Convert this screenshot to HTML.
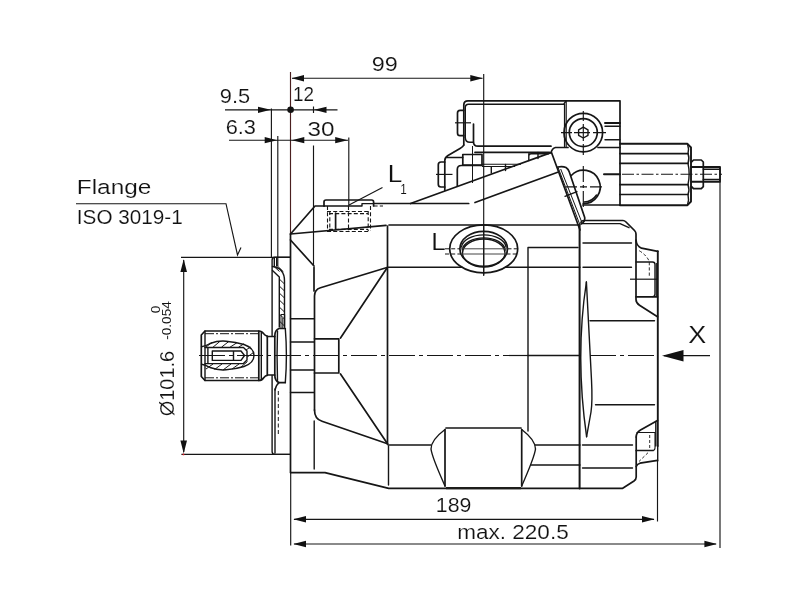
<!DOCTYPE html>
<html><head><meta charset="utf-8">
<style>
html,body{margin:0;padding:0;background:#fff;}
body{width:800px;height:600px;overflow:hidden;}
svg{display:block;will-change:transform;font-family:"Liberation Sans",sans-serif;}
.k{stroke:#161616;stroke-width:1.7;fill:none;stroke-linecap:round;stroke-linejoin:round;}
.m{stroke:#161616;stroke-width:1.4;fill:none;stroke-linecap:round;stroke-linejoin:round;}
.t{stroke:#161616;stroke-width:1;fill:none;}
.d{stroke:#161616;stroke-width:1.15;fill:none;}
.ds{stroke:#161616;stroke-width:1.1;fill:none;stroke-dasharray:4 2.2;}
.cl{stroke:#161616;stroke-width:1.2;fill:none;stroke-dasharray:26 4 4 4;}
.a{fill:#111;stroke:none;}
text{fill:#111;stroke:#fff;stroke-width:0.15px;}
</style></head><body>
<svg width="800" height="600" viewBox="0 0 800 600">
<rect width="800" height="600" fill="#fff"/>
<!--DIMS-->
<g id="dims">
<line class="d" x1="290.5" y1="72" x2="290.5" y2="234" style="stroke:#4a1f1f"/>
<line class="d" x1="290.7" y1="472" x2="290.7" y2="545.5"/>
<line class="d" x1="292" y1="78.2" x2="482.5" y2="78.2"/>
<path class="a" d="M291.7 78.2 L304 75 L304 81.4Z M482.8 78.2 L470.3 75 L470.3 81.4Z"/>
<line class="d" x1="483.7" y1="74" x2="483.7" y2="275"/>
<line class="d" x1="225" y1="109.8" x2="337.5" y2="109.8"/>
<path class="a" d="M270.8 109.8 L258 106.7 L258 112.9Z M314.2 109.8 L326.5 106.7 L326.5 112.9Z"/>
<circle class="a" cx="290.6" cy="109.8" r="3.3"/>
<line class="d" x1="313.5" y1="106.5" x2="313.5" y2="113"/>
<line class="d" x1="229" y1="140.2" x2="348" y2="140.2"/>
<path class="a" d="M277.2 140.2 L264.7 137.1 L264.7 143.3Z M291.8 140.2 L304.3 137.1 L304.3 143.3Z M347.7 140.2 L335.2 137.1 L335.2 143.3Z"/>
<line class="d" x1="271.4" y1="108.5" x2="271.4" y2="258"/>
<line class="d" x1="277.8" y1="136" x2="277.8" y2="266"/>
<line class="d" x1="313.5" y1="145.5" x2="313.5" y2="266"/>
<line class="d" x1="348.8" y1="137.5" x2="348.8" y2="206"/>
<!-- flange leader -->
<path class="d" d="M76 203.7 H226 L237.5 255 L241 247.5"/>
<line class="d" x1="181" y1="257.3" x2="290" y2="257.3"/>
<line class="d" x1="181.4" y1="454.4" x2="290" y2="454.4"/>
<line class="d" x1="183.7" y1="260" x2="183.7" y2="452"/><circle cx="183.5" cy="454.4" r="0.9" fill="#e0202a"/>
<path class="a" d="M183.7 259.2 L180.4 272 L187 272Z M183.7 453.5 L180.4 440.5 L187 440.5Z"/>
<!-- bottom dims -->
<line class="d" x1="294" y1="519.3" x2="654" y2="519.3"/>
<path class="a" d="M293.3 519.3 L306 516 L306 522.6Z M654.6 519.3 L642 516 L642 522.6Z"/>
<line class="d" x1="294" y1="544" x2="716" y2="544"/>
<path class="a" d="M293.3 544 L306 540.7 L306 547.3Z M717 544 L704.4 540.7 L704.4 547.3Z"/>
<line class="d" x1="657.5" y1="461" x2="657.5" y2="521.5"/>
<line class="d" x1="720" y1="182" x2="720" y2="548"/>
<!-- X arrow -->
<line class="d" x1="664" y1="355.7" x2="710" y2="355.7" style="stroke-width:1.3"/>
<path class="a" d="M662 355.7 L683.5 350 L683.5 361.4Z"/>
</g>
<!--TEXT-->
<g id="txt" font-size="19.5">
<text x="371.8" y="70.7" textLength="26" lengthAdjust="spacingAndGlyphs">99</text>
<text x="219.8" y="103" textLength="30.3" lengthAdjust="spacingAndGlyphs">9.5</text>
<text x="293" y="100.8" textLength="21" lengthAdjust="spacingAndGlyphs">12</text>
<text x="225.7" y="134" textLength="30.3" lengthAdjust="spacingAndGlyphs">6.3</text>
<text x="307.6" y="136.2" textLength="27" lengthAdjust="spacingAndGlyphs">30</text>
<text x="76.8" y="194.3" textLength="74.5" lengthAdjust="spacingAndGlyphs">Flange</text>
<text x="76.8" y="223.8" textLength="106" lengthAdjust="spacingAndGlyphs">ISO 3019-1</text>
<text x="435.8" y="511.6" textLength="35.5" lengthAdjust="spacingAndGlyphs">189</text>
<text x="457.2" y="539.3" textLength="111.5" lengthAdjust="spacingAndGlyphs">max. 220.5</text>
<text x="688.2" y="342.6" font-size="23.7" textLength="18" lengthAdjust="spacingAndGlyphs">X</text>
<text x="431.3" y="249.8" font-size="23.5" textLength="14.5" lengthAdjust="spacingAndGlyphs">L</text>
<text x="387.8" y="182" font-size="23.5" textLength="14.5" lengthAdjust="spacingAndGlyphs">L</text>
<text x="400.3" y="193.6" font-size="13.8" style="stroke-width:0.05px" textLength="6.5" lengthAdjust="spacingAndGlyphs">1</text>
<text transform="translate(174.2 416.3) rotate(-90)" font-size="20.3" textLength="65.5" lengthAdjust="spacingAndGlyphs">Ø101.6</text>
<text transform="translate(171.3 339.8) rotate(-90)" font-size="13" style="stroke-width:0.05px" textLength="38.6" lengthAdjust="spacingAndGlyphs">-0.054</text>
<text transform="translate(159.6 313.2) rotate(-90)" font-size="13" style="stroke-width:0.05px" textLength="7.6" lengthAdjust="spacingAndGlyphs">0</text>
</g>
<!--BODY-->
<g id="body">
<!-- main left edge -->
<line class="k" x1="290.5" y1="234" x2="290.5" y2="472.5"/>
<!-- top left -->
<path class="k" d="M290.5 234 L315 206 H324"/>
<path class="k" d="M290.5 234 L386 225.3"/>
<path class="k" d="M290.5 240 L314 266"/>
<line class="k" x1="374" y1="203.5" x2="468.7" y2="203.5"/>
<line class="k" x1="389" y1="225" x2="579" y2="225"/>
<!-- L1 boss -->
<path class="k" d="M324 206 V202 Q324 200 326 200 H371.6 Q373.6 200 373.6 202 V206"/>
<path class="m" d="M324 206 H362 V203.6 H373.6"/>
<path class="ds" d="M327.5 206 V231 M329.8 211 V231 M370.5 206 V231 M368.2 211 V231 M327 211.5 H370 M329 213.6 H368 M327 231.5 H370 M329 229.4 H368"/>
<line class="ds" x1="373.6" y1="206" x2="383" y2="206"/>
<line class="ds" x1="348.5" y1="206" x2="348.5" y2="231"/>
<line class="k" x1="335.6" y1="213" x2="335.6" y2="229"/>
<line class="d" x1="382.5" y1="187.5" x2="349" y2="205"/>
<!-- front cover -->
<line class="k" x1="314" y1="267.5" x2="314" y2="291"/>
<path class="k" d="M314.5 410 V296 Q314.5 289.5 320.5 287.7 L387 267.5"/>
<path class="k" d="M314.5 410 Q314.5 419 322 421.3 L387.5 443.7"/>
<line class="m" x1="314.2" y1="421" x2="314.2" y2="469"/>
<line class="k" x1="387.5" y1="226" x2="387.5" y2="444"/>
<line class="m" x1="388.5" y1="446" x2="388.5" y2="485"/>
<path class="k" d="M387 268 L340.5 338 M340.5 374 L387.5 443.7"/>
<path class="k" d="M314.5 338.8 H338.8 V373 H314.5"/>
<path class="m" d="M290.5 318.8 H314 M290.5 342 H314 M290.5 370 H314 M290.5 392.5 H314"/>
<!-- mid lines -->
<path class="m" d="M388 267.2 H462 M505.5 267.2 H580"/>
<path class="m" d="M528 431 V247.5 H578"/>
<line class="k" x1="579.6" y1="225" x2="579.6" y2="488.5" style="stroke-width:2"/>
<line class="m" x1="528" y1="355.5" x2="580" y2="355.5"/>
<!-- bottom -->
<path class="k" d="M290.7 472.7 H325 L388.7 488.3 H622.7 L634 481 Q636.2 479.5 636.2 477 V437"/>
<line class="m" x1="388" y1="445" x2="431" y2="445"/>
<path class="m" d="M535 445 H580 M531 465 H580"/>
<!-- lower boss -->
<path class="k" d="M446 428 H521"/>
<path class="k" d="M445 429.5 V486 M521.7 429.5 V486"/>
<path class="m" d="M445 429.5 Q431 440 431 449 Q432 457 445 486"/>
<path class="m" d="M521.7 429.5 Q535.5 440 535.5 449 Q534.5 457 521.7 486"/>
<line x1="446" y1="488.2" x2="521" y2="488.2" stroke="#1d1d1b" stroke-width="2.2"/>
<!-- L port -->
<ellipse class="k" cx="483.7" cy="248.8" rx="34" ry="24" fill="#fff"/>
<ellipse class="k" cx="483.7" cy="248.8" rx="23.8" ry="17.5"/>
<path class="m" d="M462.5 253 A21.2 14 0 0 0 505 253 A21.2 14 0 0 0 462.5 253"/>
<path class="m" d="M462.3 250 A21.5 13 0 0 1 505.2 250"/>
<path class="m" d="M461.5 247 A22.3 13 0 0 1 506 247"/>
<path class="ds" d="M445 248.8 H460 M507.5 248.8 H519 M445 254 H461 M506.5 254 H519" style="stroke-width:1"/><path class="t" d="M460 248.8 H507.5 M461 254 H506.5" style="stroke:#444"/>
<line class="d" x1="483.7" y1="224" x2="483.7" y2="276"/>
<!-- centre line -->
<line class="cl" x1="199" y1="355.5" x2="528" y2="355.5"/>
<line class="cl" x1="590" y1="355.5" x2="658" y2="355.5"/>
</g>
<!--SHAFT-->
<g id="shaft">
<!-- flange -->
<path class="m" d="M290 257.3 H275 Q272.1 257.3 272.1 260 V335.5 M272.1 375.5 V451.5 Q272.1 454.4 275 454.4"/>
<line class="m" x1="274" y1="454.4" x2="290" y2="454.4"/>
<path class="m" d="M274.3 258 V266 M276.7 258 V266"/>
<path class="m" d="M272.5 266.5 Q284.5 268 284.5 281 V327"/>
<path class="m" d="M272.5 270.5 L279.3 277 V327"/>
<path class="t" d="M279.3 279 L284.5 284 M279.3 286 L284.5 291 M279.3 293 L284.5 298 M279.3 300 L284.5 305 M279.3 307 L284.5 312 M279.3 314 L284.5 319 M279.3 321 L284.5 326 M274 266.5 L279.5 271.5 M277 265.5 L283 271.5"/>
<path class="t" d="M281 328 V314.5 H284.7 V328 M282.8 318 V328"/>
<path class="m" d="M275 389 V453"/>
<line class="ds" x1="278.3" y1="391" x2="278.3" y2="435" style="stroke-width:1;stroke-dasharray:4 2.5"/>
<!-- shaft shoulder -->
<path class="k" d="M285.3 328.5 H279 Q274.8 330 274.8 336 V375 Q274.8 381 279 382.6 H285.3"/>
<path class="m" d="M285.3 328.5 Q287.5 355.5 285.3 382.6"/>
<path class="m" d="M277.5 331 Q276.6 355 277.5 380.5"/>
<path class="m" d="M279 382.6 Q276 385 275 390"/>
<!-- neck -->
<path class="k" d="M258.8 331 Q262 331 263.5 333.5 Q265.5 336 267.3 336 V375.3 Q265.5 375.3 263.5 378 Q262 380.5 258.8 380.5"/>
<path class="k" d="M267.3 336.5 H274.8 M267.3 375 H274.8"/>
<!-- spline -->
<path class="k" d="M258.8 331 H205 L201.3 335 V376.5 L205 380.5 H258.8 Z"/>
<path class="m" d="M205 331 V380.5 M261.3 332 V379.5"/>
<path class="t" d="M205 333.7 H258.5 M205 377.8 H258.5" stroke-dasharray="9 2 2 2"/>
<!-- bore hatch -->
<path class="m" d="M201.5 346.8 Q205 346.5 210 343.5 Q218 340.5 226 341.2 Q236 342 244 344.5 Q254 348 254 355.5 Q254 363 244 366.5 Q236 369 226 369.8 Q218 370.5 210 367.5 Q205 364.5 201.5 364.2"/>
<path class="m" d="M205 347.5 H207.9 V363.6 H205 M207.9 347.5 H243.5 L247 351 V360 L243.5 363.6 H207.9"/>
<path class="m" d="M212.3 351 H241 L244.5 355.5 L241 360.4 H212.3 Z M233.5 351 V360.4"/>
<path class="t" d="M206 347 L212 342.5 M213 347.2 L220 341.3 M221.5 347.2 L229 341.3 M230 347.2 L237 342.7 M238.5 347.2 L244 343.8 M246 350 L250.5 347 M247.2 357 L253.5 352.5
 M206 369 L213 364 M214.5 369.5 L222 364 M223 370 L231 364 M232 369 L239 364 M240.5 367.5 L247.5 361.5"/>
</g>
<!--CTRL-->
<g id="ctrl">
<!-- upper box -->
<path class="k" d="M463.8 145 V105 Q463.8 100.8 468 100.8 H620 V205"/>
<path class="m" d="M465.3 137.5 V107.5 Q465.3 104.3 468.5 104.3 H563.5 L566 101"/>
<path class="m" d="M465.3 137.5 Q465.3 142.3 470 142.3 H473.5"/>
<path class="k" d="M564.5 104 V146.5 M566.2 101 V146.5" style="stroke-width:1.2"/>
<path class="k" d="M473.5 124 V142 Q473.5 146.2 478 146.2 H551"/>
<line class="t" x1="472.5" y1="146" x2="472.5" y2="183"/>
<line class="k" x1="475" y1="152.3" x2="549.5" y2="152.3" style="stroke-width:1.8"/>
<!-- upper bolt -->
<path class="k" d="M463.8 110.3 H460 Q457.5 110.3 457.5 113 V133 Q457.5 135.7 460 135.7 H463.8"/>
<line class="d" x1="455" y1="122.8" x2="471" y2="122.8" style="stroke-width:1.2"/>
<!-- bracket -->
<path class="k" d="M463.8 145 Q463 147 460 148.5 L448 155.5 Q444.8 157.5 444.8 160.5 V190.3"/>
<line class="m" x1="446.5" y1="157.5" x2="462.8" y2="157.5"/>
<path class="k" d="M462.8 154.5 H482 V165 H462.8 Z"/>
<path class="k" d="M457.3 186 V169.5 Q457.3 165.5 461.3 165.5 H482"/>
<path class="t" d="M482 164.2 H521 M482 166.5 H515" style="stroke-width:1.15"/>
<path class="m" d="M491.3 167 V173 M505.5 164.5 V170.5"/>
<!-- lower bolt -->
<path class="k" d="M444.8 162 H441 Q438.3 162 438.3 164.7 V184.3 Q438.3 187 441 187 H444.8"/>
<line class="d" x1="436" y1="174.4" x2="452.5" y2="174.4"/>
<!-- diagonals -->
<line class="k" x1="410.5" y1="203.5" x2="551" y2="152.6"/>
<line class="k" x1="475" y1="202.5" x2="557.7" y2="172.3"/>
<!-- small rect on diagonal -->
<path class="m" d="M528.8 160.5 V156 Q528.8 153.8 531 153.8 H548.5 M538 152.5 V158.5 M528.8 153.8 V160"/>
<!-- corner and plate -->
<path class="k" d="M551 152.8 Q552 148.5 555.5 147.5 H568"/>
<path class="k" d="M598 147.5 H620"/>
<path class="k" d="M551.5 152.5 L580 230"/>
<path class="t" d="M557.9 167 L579.6 224"/>
<path class="t" d="M560.7 169 L581.6 221.7"/>
<path class="k" d="M557.8 167 Q563 166.2 566 167.5 Q568.3 169 569.3 172 L584.7 217.5 Q585.5 221.5 581 224"/>
<line class="m" x1="565" y1="196.3" x2="577" y2="191.7"/>
<!-- socket screw -->
<circle class="k" cx="583.3" cy="132.6" r="19.3" fill="#fff"/>
<circle class="k" cx="583.3" cy="132.6" r="14"/>
<path class="m" d="M583.3 127.2 L588 129.9 V135.3 L583.3 138 L578.6 135.3 V129.9 Z"/>
<path class="d" d="M583.3 111 V121 M583.3 124 V141 M583.3 144 V155 M561 132.6 H572 M574 132.6 H590 M593 132.6 H606"/>
<path class="k" d="M605 123 H620" style="stroke-width:2"/>
<path class="m" d="M605 126.3 H620 M605 139.7 H620"/>
<!-- port circle -->
<path class="k" d="M571.3 175.5 A16.7 16.7 0 1 1 583.3 203.6"/>
<path class="m" d="M596.5 195 A15.5 15.5 0 0 1 584 202"/>
<path class="k" d="M583 205 H620"/>
<path class="d" d="M583.3 166 V182 M583.3 185 V188 M583.3 191 V207" />
<path class="d" d="M566 186.8 H577 M580 186.8 H587 M590 186.8 H602"/>
<path class="k" d="M604 174.2 H620" style="stroke-width:2"/>
<!-- hex nut -->
<path class="k" d="M620 143.8 H687.5 L691 147.5 V201.5 L687.5 205.2 H620" style="stroke-width:1.9"/>
<path class="k" d="M620 153.6 H688 M620 163.4 H688 M620 184.7 H688 M620 194.5 H688"/>
<path class="m" d="M687.5 144 Q689.3 149 688 153.6 Q689.8 158.5 688 163.4 Q690.3 174 688 184.7 Q689.8 189.6 688 194.5 Q689.3 200 687.5 205"/>
<line class="d" x1="622" y1="174.2" x2="722" y2="174.2" stroke-dasharray="12 2.5 2.5 2.5"/>
<!-- small nut -->
<path class="k" d="M691.6 162 L693.5 160 H701.3 L703.3 162 V186.7 L701.3 188.7 H693.5 L691.6 186.7"/>
<path class="k" d="M691.6 167 H720 V181.8 H691.6" style="stroke-width:1.9"/>
<path class="m" d="M703.3 169.3 H719.5 M703.3 179.5 H719.5"/>
<!-- housing top right of plate -->
<path class="m" d="M581.5 223.6 H620 L629 227.7"/>
</g>
<!--REAR-->
<g id="rear">
<path class="k" d="M581 222.5 Q581.5 220.5 584 220.5 H623 Q624.5 220.5 626 222 L634.5 230.5 Q636 232 636 234 V240 Q636.5 246 641.5 248.2 L657.7 251.3"/>
<line class="k" x1="657.8" y1="251.3" x2="657.8" y2="446" style="stroke-width:1.9"/>
<path class="k" d="M636 240 V299.5 Q636 303 639.5 305.3 L657.5 316.7"/>
<path class="k" d="M657.5 420.5 L640.5 430 Q636.2 432.5 636.2 437"/>
<path class="m" d="M583 243 H631.5 M583 267.3 H631.5 M590 320.7 H654.5 M595.5 404.7 H654.5 M582.5 445 H632.5 M582.5 468 H632.5"/>
<!-- upper bolt rear -->
<path class="m" d="M636 262 H652.5 Q655 262 655 264.5 V294 Q655 296.6 652.5 296.6"/>
<path class="k" d="M636 296.8 H657.5"/>
<line class="t" x1="656.4" y1="263" x2="656.4" y2="296"/>
<path class="ds" d="M639.2 250.7 Q646.5 255 649.3 261.5 V277" style="stroke-width:0.9;stroke-dasharray:3.2 2"/>
<line class="d" x1="630" y1="279.2" x2="658" y2="279.2" style="stroke-width:1.2"/>
<!-- lower bolt rear -->
<path class="m" d="M637 432.5 H655 V448 Q655 450.5 652.5 450.5" style="stroke-width:1.1"/>
<path class="k" d="M636.2 450.5 H653"/>
<path class="m" d="M655.8 421.5 V446"/>
<path class="ds" d="M649.7 435 V450 M648 452.7 L639 461.5" style="stroke-width:0.9;stroke-dasharray:3 2"/>
<path class="k" d="M636.2 466.5 Q637 464 640 463.2 L657.5 460.3"/>
<line class="m" x1="657.7" y1="446" x2="657.7" y2="461"/>
<!-- lens rear -->
<path class="m" d="M586.4 282 Q575 356 586.6 436.7"/>
<path class="m" d="M586.4 282 L591.5 380 Q592.6 402 591 412 L586.6 436.7"/>
</g>
</svg>
</body></html>
